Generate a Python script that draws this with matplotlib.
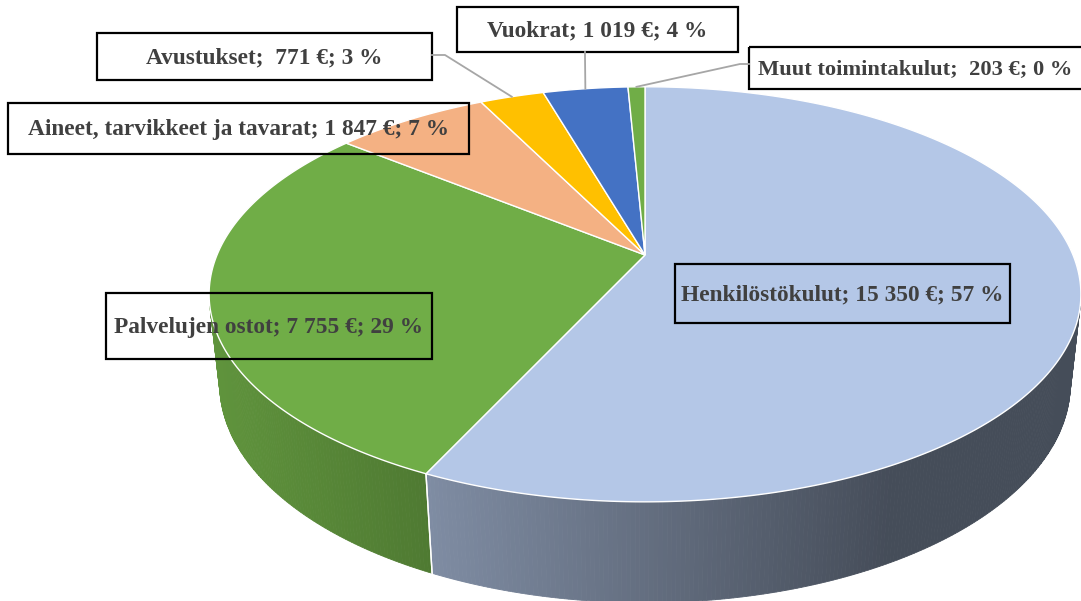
import numpy as np
import matplotlib
matplotlib.use("Agg")
import matplotlib.pyplot as plt
from matplotlib.patches import Polygon, Rectangle

# ---- data ----
categories = ["Henkilöstökulut", "Palvelujen ostot", "Aineet, tarvikkeet ja tavarat",
              "Avustukset", "Vuokrat", "Muut toimintakulut"]
values = [15350, 7755, 1847, 771, 1019, 203]
labels = ["Henkilöstökulut; 15 350 €; 57 %",
          "Palvelujen ostot; 7 755 €; 29 %",
          "Aineet, tarvikkeet ja tavarat; 1 847 €; 7 %",
          "Avustukset;  771 €; 3 %",
          "Vuokrat; 1 019 €; 4 %",
          "Muut toimintakulut;  203 €; 0 %"]
colors = ["#B4C7E7", "#70AD47", "#F4B183", "#FFC000", "#4472C4", "#70AD47"]

# ---- geometry (perspective 3D pie) ----
W, H = 1081, 601
s_t = 0.4675
tilt = np.arcsin(s_t)
c_t = np.cos(tilt)
dist = 5.28 * c_t
F = 428 * dist
cx, cy = 645, 255
depth_h = 0.238


def proj(x, y, z):
    dep = dist + y * c_t - z * s_t
    sy = y * s_t + z * c_t
    return cx + F * x / dep, cy - F * sy / dep


def rim(a, z):
    a = np.radians(a)
    return proj(np.sin(a), np.cos(a), z)


fig = plt.figure(figsize=(W / 100, H / 100), dpi=100)
ax = fig.add_axes([0, 0, 1, 1])
ax.set_xlim(0, W)
ax.set_ylim(H, 0)
ax.axis("off")

total = float(sum(values))
fracs = np.array(values) / total
edges = np.concatenate([[0], np.cumsum(fracs) * 360])

# visible wall range: cos(a) < -1/(dist*c_t)
amin = np.degrees(np.arccos(-1 / (dist * c_t)))
amax = 360 - amin


def shade(x):
    f = 0.85 - (x - 215) * 0.000686
    return max(f, 0.385)


# walls
for i in range(len(values)):
    a0, a1 = max(edges[i], amin), min(edges[i + 1], amax)
    if a1 <= a0:
        continue
    base = np.array(matplotlib.colors.to_rgb(colors[i]))
    n = max(int((a1 - a0) / 0.5), 2)
    angs = np.linspace(a0, a1, n + 1)
    for j in range(n):
        aa = np.linspace(angs[j], angs[j + 1], 3)
        tx, ty = rim(aa, 0)
        bx, by = rim(aa, -depth_h)
        xs = np.concatenate([tx, bx[::-1]])
        ys = np.concatenate([ty, by[::-1]])
        col = np.clip(base * shade(np.mean(tx)), 0, 1)
        ax.add_patch(Polygon(np.column_stack([xs, ys]), closed=True,
                             facecolor=col, edgecolor=col, lw=0.6))
    # seam lines at slice boundaries on the wall
    for a in (edges[i], edges[i + 1]):
        if amin < a < amax:
            tx, ty = rim(a, 0)
            bx, by = rim(a, -depth_h)
            ax.plot([tx, bx], [ty, by], color="white", lw=1.0)

# top faces
for i in range(len(values)):
    aa = np.linspace(edges[i], edges[i + 1], max(int(edges[i + 1] - edges[i]) * 2, 4))
    tx, ty = rim(aa, 0)
    xs = np.concatenate([[cx], tx])
    ys = np.concatenate([[cy], ty])
    ax.add_patch(Polygon(np.column_stack([xs, ys]), closed=True,
                         facecolor=colors[i], edgecolor="white", lw=1.0))

# ---- labels ----
txt_kw = dict(fontfamily="Liberation Serif", fontweight="bold", fontsize=16.8,
              color="#404040", ha="center", va="center")
boxes = [
    (675, 264, 335, 59),   # Henkilöstökulut
    (106, 293, 326, 66),   # Palvelujen ostot
    (8, 103, 461, 51),     # Aineet
    (97, 33, 335, 47),     # Avustukset
    (457, 7, 281, 45),     # Vuokrat
    (749, 47, 345, 42),    # Muut
]
for i, (bx0, by0, bw, bh) in enumerate(boxes):
    ax.add_patch(Rectangle((bx0, by0), bw, bh, fill=False, edgecolor="black", lw=1.6))
    if i == 5:
        ax.text(bx0 + 9, by0 + bh / 2 + 1, labels[i],
                **{**txt_kw, "ha": "left", "fontsize": 16.2})
    else:
        ax.text(bx0 + bw / 2, by0 + bh / 2 + 1, labels[i], **txt_kw)

# leader lines
lc = "#A6A6A6"
mid_av = (edges[3] + edges[4]) / 2
ex, ey = rim(mid_av, 0)
ax.plot([432, 445, ex], [55, 55, ey], color=lc, lw=1.3)
mid_vu = (edges[4] + edges[5]) / 2
ex, ey = rim(mid_vu, 0)
ax.plot([585, 585, ex], [52, 56, ey], color=lc, lw=1.3)
mid_mu = (edges[5] + edges[6]) / 2
ex, ey = rim(mid_mu, 0)
ax.plot([749, 740, ex], [64, 64, ey], color=lc, lw=1.3)

fig.savefig("out.png", dpi=100)
